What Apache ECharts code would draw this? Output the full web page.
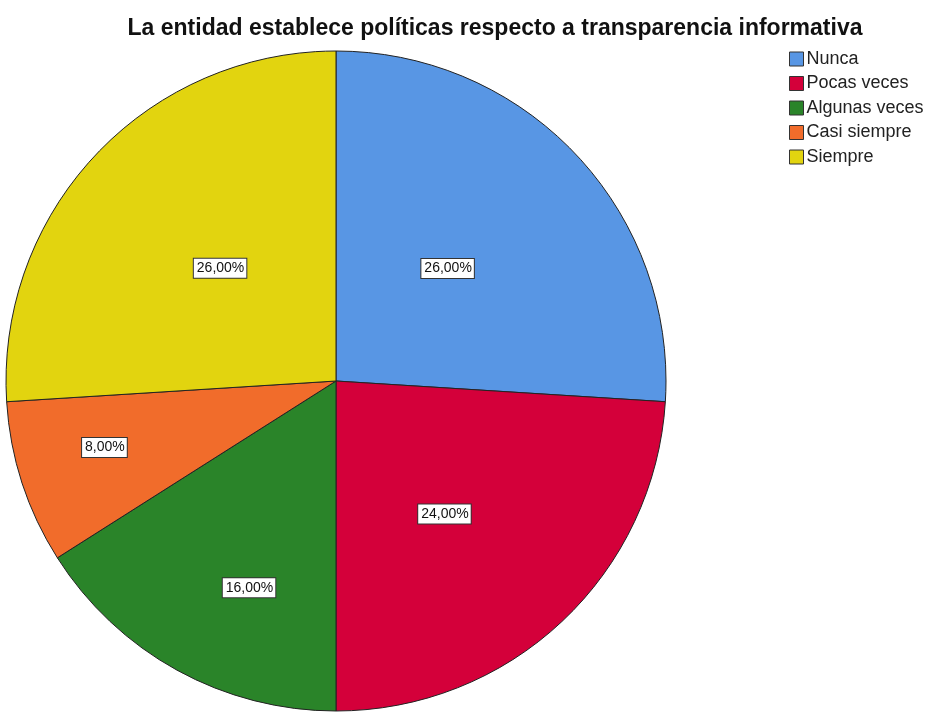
<!DOCTYPE html>
<html>
<head>
<meta charset="utf-8">
<script src="https://cdn.jsdelivr.net/npm/echarts@6/dist/echarts.min.js"></script>
<style>
  html, body { margin: 0; padding: 0; background: #fff; }
  #chart { width: 926px; height: 717px; }
</style>
</head>
<body>
<div id="chart"></div>
<script>
// Response categories and their shares (%)
const categories = ['Nunca', 'Pocas veces', 'Algunas veces', 'Casi siempre', 'Siempre'];
const percents = [26, 24, 16, 8, 26];
const colors = ['#5896e4', '#d4003a', '#2a8429', '#f16c2b', '#e2d40f'];

// Where each value label sits inside its slice: fraction of the radius, and
// a small angular nudge (degrees) from the slice's middle.
const labelRadial = [0.48, 0.52, 0.68, 0.73, 0.49];
const labelNudge = [-2, 4, -6, 2, 1];

const CX = 336, CY = 381, R = 330;

const chart = echarts.init(document.getElementById('chart'));

const total = percents.reduce((a, b) => a + b, 0);
const midAngles = [];
let acc = 0;
percents.forEach(v => {
  midAngles.push((acc + v / 2) / total * 360);
  acc += v;
});

chart.setOption({
  animation: false,
  title: {
    text: 'La entidad establece políticas respecto a transparencia informativa',
    left: 490,
    textAlign: 'center',
    top: 12,
    textStyle: { fontFamily: 'Liberation Sans, Arial, sans-serif', fontSize: 23, fontWeight: 'bold', color: '#111' }
  },
  legend: {
    orient: 'vertical',
    left: 784,
    top: 45,
    icon: 'rect',
    itemWidth: 14,
    itemHeight: 14,
    itemGap: 6.5,
    textStyle: { fontFamily: 'Liberation Sans, Arial, sans-serif', fontSize: 18, lineHeight: 18, color: '#222', padding: [0, 0, 0, -2] },
    itemStyle: { borderColor: '#333', borderWidth: 1 },
    data: categories
  },
  series: [{
    type: 'pie',
    center: [CX, CY],
    radius: R,
    startAngle: 90,
    clockwise: true,
    silent: true,
    itemStyle: { borderColor: '#222', borderWidth: 1 },
    emphasis: { disabled: true },
    label: {
      show: true,
      position: 'inside',
      formatter: p => p.value.toFixed(2).replace('.', ',') + '%',
      fontFamily: 'Liberation Sans, Arial, sans-serif',
      fontSize: 14,
      color: '#111',
      backgroundColor: '#fff',
      borderColor: '#333',
      borderWidth: 1,
      padding: [3, 2, 2, 3]
    },
    labelLayout: params => {
      const i = params.dataIndex;
      const a = (midAngles[i] + labelNudge[i]) * Math.PI / 180;
      const d = labelRadial[i] * R;
      return { x: CX + d * Math.sin(a), y: CY - d * Math.cos(a), align: 'center', verticalAlign: 'middle' };
    },
    data: categories.map((c, i) => ({ name: c, value: percents[i], itemStyle: { color: colors[i] } }))
  }]
});
</script>
</body>
</html>
